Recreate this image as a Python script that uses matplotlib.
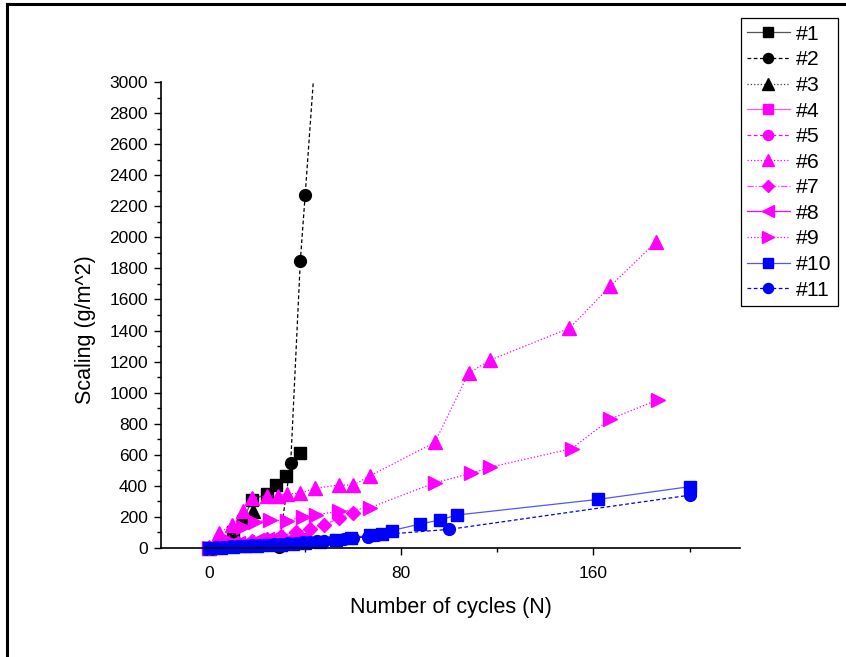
import matplotlib
matplotlib.use("Agg")
import matplotlib.pyplot as plt
from matplotlib.lines import Line2D
from matplotlib.patches import Rectangle

plt.rcParams['font.family'] = ['Liberation Sans', 'DejaVu Sans']

# Scaling data (cycles, g/m^2)
labels = ['#1', '#2', '#3', '#4', '#5', '#6', '#7', '#8', '#9', '#10', '#11']

x1 = [0, 5, 10, 14, 18, 24, 28, 32, 38]
y1 = [0, 30, 100, 175, 310, 350, 405, 465, 610]
x2 = [0, 29, 34, 38, 40, 45]
y2 = [0, 5, 550, 1850, 2270, 3350]
x3 = [0, 5, 10, 18.5]
y3 = [0, 40, 100, 240]
x4 = [0, 5, 10, 15, 20, 25, 30]
y4 = [0, 5, 10, 15, 20, 25, 30]
x5 = [0, 5, 10, 15, 20, 25, 30, 35, 40]
y5 = [0, 8, 15, 22, 30, 38, 45, 52, 60]
x6 = [0, 4, 9.5, 14, 18, 24, 28.5, 32.5, 38, 44, 54, 60, 67, 94, 108, 117, 150, 167, 186]
y6 = [5, 95, 150, 235, 320, 335, 335, 348, 352, 385, 405, 405, 465, 680, 1125, 1210, 1415, 1685, 1970]
x7 = [0, 6, 12, 18, 24, 30, 36, 42, 48, 54, 60]
y7 = [0, 15, 30, 45, 60, 80, 100, 125, 150, 190, 225]
x8 = [0, 4, 8, 12, 16, 20, 24, 28]
y8 = [0, 10, 20, 30, 40, 50, 60, 70]
x9 = [0, 7, 14, 19, 25.5, 32.5, 39, 44.5, 54, 67, 94, 109, 117, 151, 167, 187]
y9 = [0, 60, 135, 170, 180, 175, 200, 215, 235, 260, 420, 480, 520, 640, 830, 955]
x10 = [0, 5, 10, 15, 20, 25, 30, 35, 40, 46, 53, 59, 67, 72, 76, 88, 96, 103, 162, 200]
y10 = [0, 3, 6, 10, 14, 18, 22, 27, 33, 41, 51, 64, 84, 92, 112, 155, 180, 212, 313, 395]
x11 = [0, 3, 6, 9, 12, 15, 18, 21, 24, 27, 30, 33, 36, 39, 42, 45, 48, 52, 56, 60, 66, 70, 100, 200]
y11 = [0, 5, 8, 10, 12, 15, 18, 20, 22, 25, 28, 30, 33, 36, 40, 44, 48, 52, 58, 64, 73, 84, 120, 340]

xs = [x1, x2, x3, x4, x5, x6, x7, x8, x9, x10, x11]
ys = [y1, y2, y3, y4, y5, y6, y7, y8, y9, y10, y11]

styles = [
    ('black', '#555555', '-', 's'),
    ('black', 'black', (0, (3, 2)), 'o'),
    ('black', '#444444', ':', '^'),
    ('#ff00ff', '#ff55ff', '-', 's'),
    ('#ff00ff', '#ff00ff', (0, (3, 2)), 'o'),
    ('#ff00ff', '#ff00ff', ':', '^'),
    ('#ff00ff', '#ff44ff', (0, (5, 1.5, 1, 1.5)), 'D'),
    ('#ff00ff', '#ff00ff', '-', '<'),
    ('#ff00ff', '#ff00ff', ':', '>'),
    ('#0000ff', '#5555ff', '-', 's'),
    ('#0000ff', '#0000ff', (0, (3, 2)), 'o'),
]

fig = plt.figure(figsize=(8.46, 6.57), dpi=100)
ax = fig.add_axes([0.1903, 0.1659, 0.6844, 0.7093])

clip = Rectangle((0, -0.05), 1.0, 1.05, transform=ax.transAxes)
handles = []
for x, y, lab, (mc, lc, ls, mk) in zip(xs, ys, labels, styles):
    if mk == 's':
        ms = 8
    elif mk == 'D':
        ms = 7.5
    elif mk == 'o':
        ms = 8.5
    else:
        ms = 9.5
    line, = ax.plot(x, y, color=lc, linestyle=ls, linewidth=0.9,
                    marker=mk, markersize=ms, markerfacecolor=mc,
                    markeredgecolor=mc, label=lab)
    line.set_clip_path(clip)
    handles.append(line)

ax.set_xlim(-20, 221)
ax.set_ylim(0, 3000)
ax.set_xticks([0, 80, 160])
ax.set_xticks([40, 120, 200], minor=True)
ax.set_yticks(range(0, 3001, 200))
ax.set_yticks(range(100, 3000, 200), minor=True)

for side in ['top', 'right']:
    ax.spines[side].set_visible(False)
for side in ['left', 'bottom']:
    ax.spines[side].set_linewidth(1.2)

ax.tick_params(which='major', direction='out', length=5, width=1.0, labelsize=12.5)
ax.tick_params(which='minor', direction='out', length=3, width=1.0)
ax.tick_params(axis='x', which='major', pad=8)
ax.tick_params(axis='y', which='major', pad=4.5)

ax.set_xlabel('Number of cycles (N)', fontsize=15.5)
ax.set_ylabel('Scaling (g/m^2)', fontsize=15.5)
ax.xaxis.set_label_coords(0.5, -0.105)
ax.yaxis.set_label_coords(-0.112, 0.468)

leg = fig.legend(handles=handles, loc='upper left', bbox_to_anchor=(0.8755, 0.972),
                 fontsize=15.3, frameon=True, fancybox=False, framealpha=1,
                 edgecolor='black', handlelength=2.0, handletextpad=0.3,
                 labelspacing=0.31, borderpad=0.3, borderaxespad=0,
                 markerscale=0.85)
leg.get_frame().set_linewidth(0.9)

# outer frame (only top and left edges are visible in the original)
fig.add_artist(Line2D([0.0085, 0.0085], [0, 0.994], transform=fig.transFigure, color='black', lw=2.2))
fig.add_artist(Line2D([0.0085, 1.0], [0.994, 0.994], transform=fig.transFigure, color='black', lw=2.2))

plt.savefig('out.png', dpi=100)
plt.close()
